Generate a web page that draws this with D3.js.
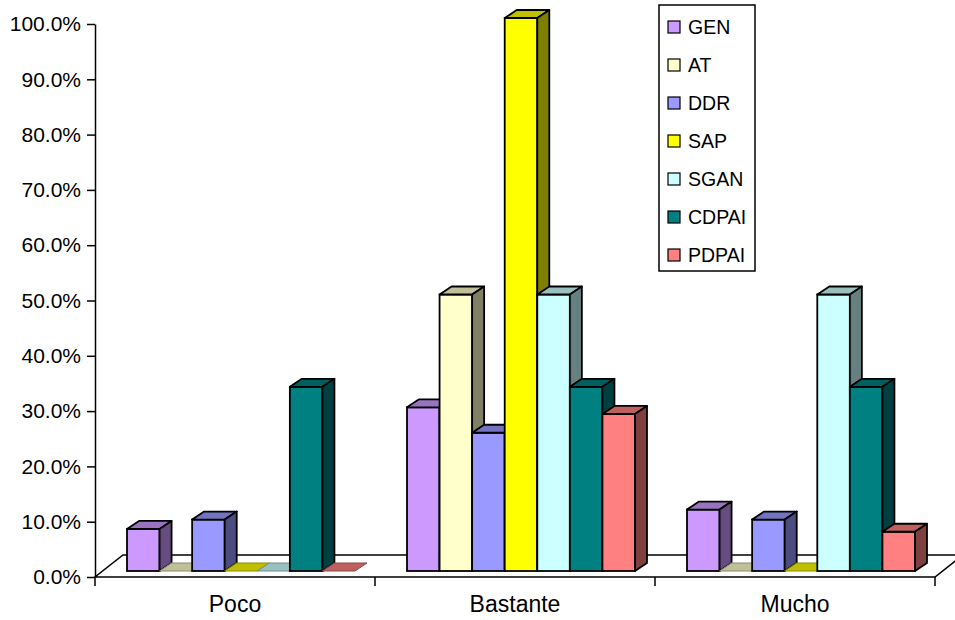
<!DOCTYPE html>
<html>
<head>
<meta charset="utf-8">
<script src="https://cdn.jsdelivr.net/npm/d3@7"></script>
<style>
  body { margin: 0; background: #fff; }
  svg { display: block; font-family: Arial, "Liberation Sans", sans-serif; }
</style>
</head>
<body>
<svg id="chart" width="955" height="620"></svg>
<script>
const categories = ["Poco", "Bastante", "Mucho"];
const seriesNames = ["GEN", "AT", "DDR", "SAP", "SGAN", "CDPAI", "PDPAI"];
const seriesColors = ["#CC99FF", "#FFFFCC", "#9999FF", "#FFFF00", "#CCFFFF", "#008080", "#FF8080"];
const GEN = [0.076, 0.296, 0.111];
const AT = [0, 0.50, 0];
const DDR = [0.093, 0.25, 0.093];
const SAP = [0, 1.0, 0];
const SGAN = [0, 0.50, 0.50];
const CDPAI = [0.333, 0.333, 0.333];
const PDPAI = [0, 0.284, 0.071];
const yTicks = [0, 0.1, 0.2, 0.3, 0.4, 0.5, 0.6, 0.7, 0.8, 0.9, 1.0];

const seriesValues = [GEN, AT, DDR, SAP, SGAN, CDPAI, PDPAI];

const svg = d3.select("#chart");

const left = 95, right = 935, floorY = 577, topY = 24;
const floorDX = 28, floorDY = 22;
const barDX = 12, barDY = 8;
const barBaseShift = 6;

const x = d3.scaleBand().domain(categories).range([left, right]).padding(0);
const xs = d3.scaleBand().domain(seriesNames).range([26, 254]).padding(0);
const y = d3.scaleLinear().domain([0, 1]).range([floorY, topY]);

function shade(c, k) {
  const r = d3.rgb(c);
  return d3.rgb(r.r * k, r.g * k, r.b * k).formatHex();
}

// Floor
svg.append("polygon")
  .attr("points", [
    [left, floorY], [right, floorY],
    [right + floorDX, floorY - floorDY], [left + floorDX, floorY - floorDY]
  ].map(p => p.join(",")).join(" "))
  .attr("fill", "#fff")
  .attr("stroke", "#000")
  .attr("stroke-width", 1.5);

// Bars
const barsG = svg.append("g");
categories.forEach((cat, ci) => {
  seriesNames.forEach((s, si) => {
    const v = seriesValues[si][ci];
    const color = seriesColors[si];
    const bx = x(cat) + xs(s) + barBaseShift;
    const w = xs.bandwidth();
    const yb = y(0) - barBaseShift;
    const yt = y(v) - barBaseShift;
    const g = barsG.append("g");
    if (v > 0) {
      g.append("rect")
        .attr("x", bx).attr("y", yt)
        .attr("width", w).attr("height", yb - yt)
        .attr("fill", color)
        .attr("stroke", "#000").attr("stroke-width", 1.8);
    }
    g.append("polygon")
      .attr("points", [
        [bx, yt], [bx + barDX, yt - barDY], [bx + w + barDX, yt - barDY], [bx + w, yt]
      ].map(p => p.join(",")).join(" "))
      .attr("fill", shade(color, 0.75))
      .attr("stroke", v > 0 ? "#000" : shade(color, 0.55))
      .attr("stroke-width", v > 0 ? 1.8 : 1)
      .attr("stroke-linejoin", "round");
    if (v > 0) {
      g.append("polygon")
        .attr("points", [
          [bx + w, yt], [bx + w + barDX, yt - barDY], [bx + w + barDX, yb - barDY], [bx + w, yb]
        ].map(p => p.join(",")).join(" "))
        .attr("fill", shade(color, 0.5))
        .attr("stroke", "#000").attr("stroke-width", 1.8)
        .attr("stroke-linejoin", "round");
    }
  });
});

// Y axis
const yAxis = d3.axisLeft(y)
  .tickValues(yTicks)
  .tickFormat(d3.format(".1%"))
  .tickSize(8)
  .tickSizeOuter(0)
  .tickPadding(6);
const yg = svg.append("g")
  .attr("transform", `translate(${left},0)`)
  .call(yAxis);
yg.selectAll("path, line").attr("stroke", "#000").attr("stroke-width", 1.5);
yg.selectAll("text").attr("font-size", 21).attr("fill", "#000")
  .attr("font-family", "Arial, 'Liberation Sans', sans-serif");

// X axis
const xAxis = d3.axisBottom(x).tickSize(0).tickSizeOuter(0).tickPadding(19);
const xg = svg.append("g")
  .attr("transform", `translate(0,${floorY})`)
  .call(xAxis);
xg.select(".domain").remove();
xg.selectAll("text").attr("font-size", 23).attr("fill", "#000")
  .attr("font-family", "Arial, 'Liberation Sans', sans-serif");

const boundaries = categories.map(c => x(c)).concat([x(categories[categories.length - 1]) + x.bandwidth()]);
svg.append("g").selectAll("line")
  .data(boundaries)
  .join("line")
  .attr("x1", d => d).attr("x2", d => d)
  .attr("y1", floorY).attr("y2", floorY + 9)
  .attr("stroke", "#000").attr("stroke-width", 1.5);

// Legend
const legend = svg.append("g");
legend.append("rect")
  .attr("x", 659).attr("y", 5).attr("width", 96).attr("height", 266)
  .attr("fill", "#fff").attr("stroke", "#000").attr("stroke-width", 1.5);
const items = legend.selectAll("g.item")
  .data(seriesNames)
  .join("g")
  .attr("class", "item")
  .attr("transform", (d, i) => `translate(668,${27 + i * 38.0})`);
items.append("rect")
  .attr("x", 0).attr("y", -6).attr("width", 12).attr("height", 12)
  .attr("fill", (d, i) => seriesColors[i])
  .attr("stroke", "#000").attr("stroke-width", 1.2);
items.append("text")
  .attr("x", 20).attr("y", 0).attr("dy", "0.36em")
  .attr("font-size", 19.5)
  .attr("fill", "#000")
  .text(d => d);
</script>
</body>
</html>
